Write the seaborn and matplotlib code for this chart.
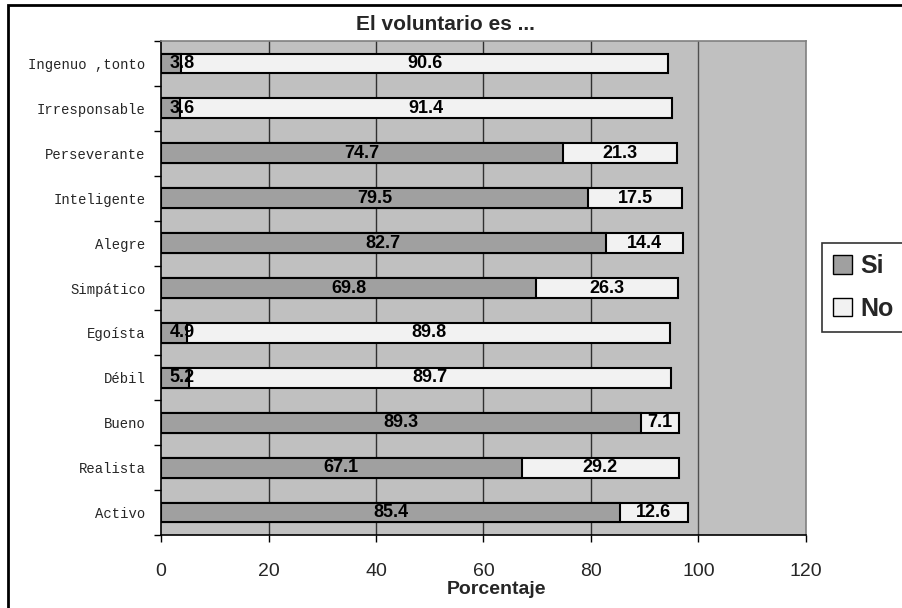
import matplotlib
matplotlib.use("Agg")
import matplotlib.pyplot as plt
from matplotlib.patches import Patch, Rectangle
from matplotlib.ticker import FixedLocator
import numpy as np
import pandas as pd
import seaborn as sns

# Survey answers: "El voluntario es ..." (percent answering Si / No)
categorias = ["Ingenuo ,tonto", "Irresponsable", "Perseverante", "Inteligente",
              "Alegre", "Simpático", "Egoísta", "Débil", "Bueno", "Realista", "Activo"]
si = [3.8, 3.6, 74.7, 79.5, 82.7, 69.8, 4.9, 5.2, 89.3, 67.1, 85.4]
no = [90.6, 91.4, 21.3, 17.5, 14.4, 26.3, 89.8, 89.7, 7.1, 29.2, 12.6]
x_ticks = [0, 20, 40, 60, 80, 100, 120]

df = pd.DataFrame({"categoria": categorias, "si": si, "no": no})
df["total"] = df["si"] + df["no"]

color_si = "#a0a0a0"
color_no = "#f2f2f2"
color_fondo = "#c0c0c0"

sns.set_theme(style="white")
plt.rcParams["font.family"] = ["Liberation Sans", "DejaVu Sans"]

fig = plt.figure(figsize=(9.03, 6.08), dpi=100)
ax = fig.add_axes([161 / 903, 1 - 535 / 608, (806 - 161) / 903, (535 - 41) / 608])
ax.set_facecolor(color_fondo)

# Stacked bars: full length (Si + No) first, then the Si part on top
sns.barplot(data=df, x="total", y="categoria", orient="h", color=color_no,
            edgecolor="black", linewidth=1.5, width=0.44, saturation=1, ax=ax, zorder=3)
sns.barplot(data=df, x="si", y="categoria", orient="h", color=color_si,
            edgecolor="black", linewidth=1.5, width=0.44, saturation=1, ax=ax, zorder=4)

ax.set_xlim(0, 120)
ax.set_ylim(len(categorias) - 0.5, -0.5)
ax.xaxis.set_major_locator(FixedLocator(x_ticks))
ax.grid(False)
for xv in x_ticks[1:-1]:
    ax.axvline(xv, color="#303030" if xv < 100 else "#505050", lw=1.0, zorder=1)

# Value labels
lab_kw = dict(fontsize=13, fontweight="bold", color="black", va="center", zorder=6)
for i, (s, n) in enumerate(zip(si, no)):
    ax.text(max(s / 2, 4.0), i, f"{s:.1f}", ha="center", **lab_kw)
    ax.text(s + n / 2, i, f"{n:.1f}", ha="center", **lab_kw)

# Axes styling
for side in ["top", "right"]:
    ax.spines[side].set_color("#808080")
    ax.spines[side].set_linewidth(1.2)
for side in ["left", "bottom"]:
    ax.spines[side].set_color("black")
    ax.spines[side].set_linewidth(1.2)

ax.set_xlabel("")
ax.set_ylabel("")
ax.tick_params(axis="x", which="major", direction="out", length=5, width=1,
               color="black", labelsize=14, pad=15, bottom=True)
ax.set_xticklabels([str(t) for t in x_ticks])
ax.set_yticks(range(len(categorias)))
ax.set_yticklabels(categorias, fontfamily="Liberation Mono", fontsize=10)
ax.tick_params(axis="y", which="major", length=0, pad=11)
ax.yaxis.set_minor_locator(FixedLocator(np.arange(-0.5, len(categorias), 1.0)))
ax.tick_params(axis="y", which="minor", direction="out", length=5, width=1,
               color="black", left=True)

fig.text(445 / 903, 1 - 25 / 608, "El voluntario es ...", ha="center", va="center",
         fontsize=15, fontweight="bold")
fig.text(497 / 903, 1 - 589 / 608, "Porcentaje", ha="center", va="center",
         fontsize=14, fontweight="bold")

handles = [Patch(facecolor=color_si, edgecolor="black", lw=1, label="Si"),
           Patch(facecolor=color_no, edgecolor="black", lw=1, label="No")]
leg = fig.legend(handles=handles, loc="upper left",
                 bbox_to_anchor=(822 / 903, 1 - 243 / 608),
                 frameon=True, fancybox=False, prop={"weight": "bold", "size": 18},
                 handlelength=0.75, handleheight=0.75, handletextpad=0.32,
                 labelspacing=0.75, borderpad=0.45, borderaxespad=0)
leg.get_frame().set_edgecolor("black")
leg.get_frame().set_linewidth(1.2)

# Chart border
fig.patches.append(Rectangle((8 / 903, -0.05), 1.1, 1 - 5 / 608 + 0.05,
                             transform=fig.transFigure, fill=False,
                             edgecolor="black", lw=2, zorder=0))

fig.savefig("out.png", dpi=100)
